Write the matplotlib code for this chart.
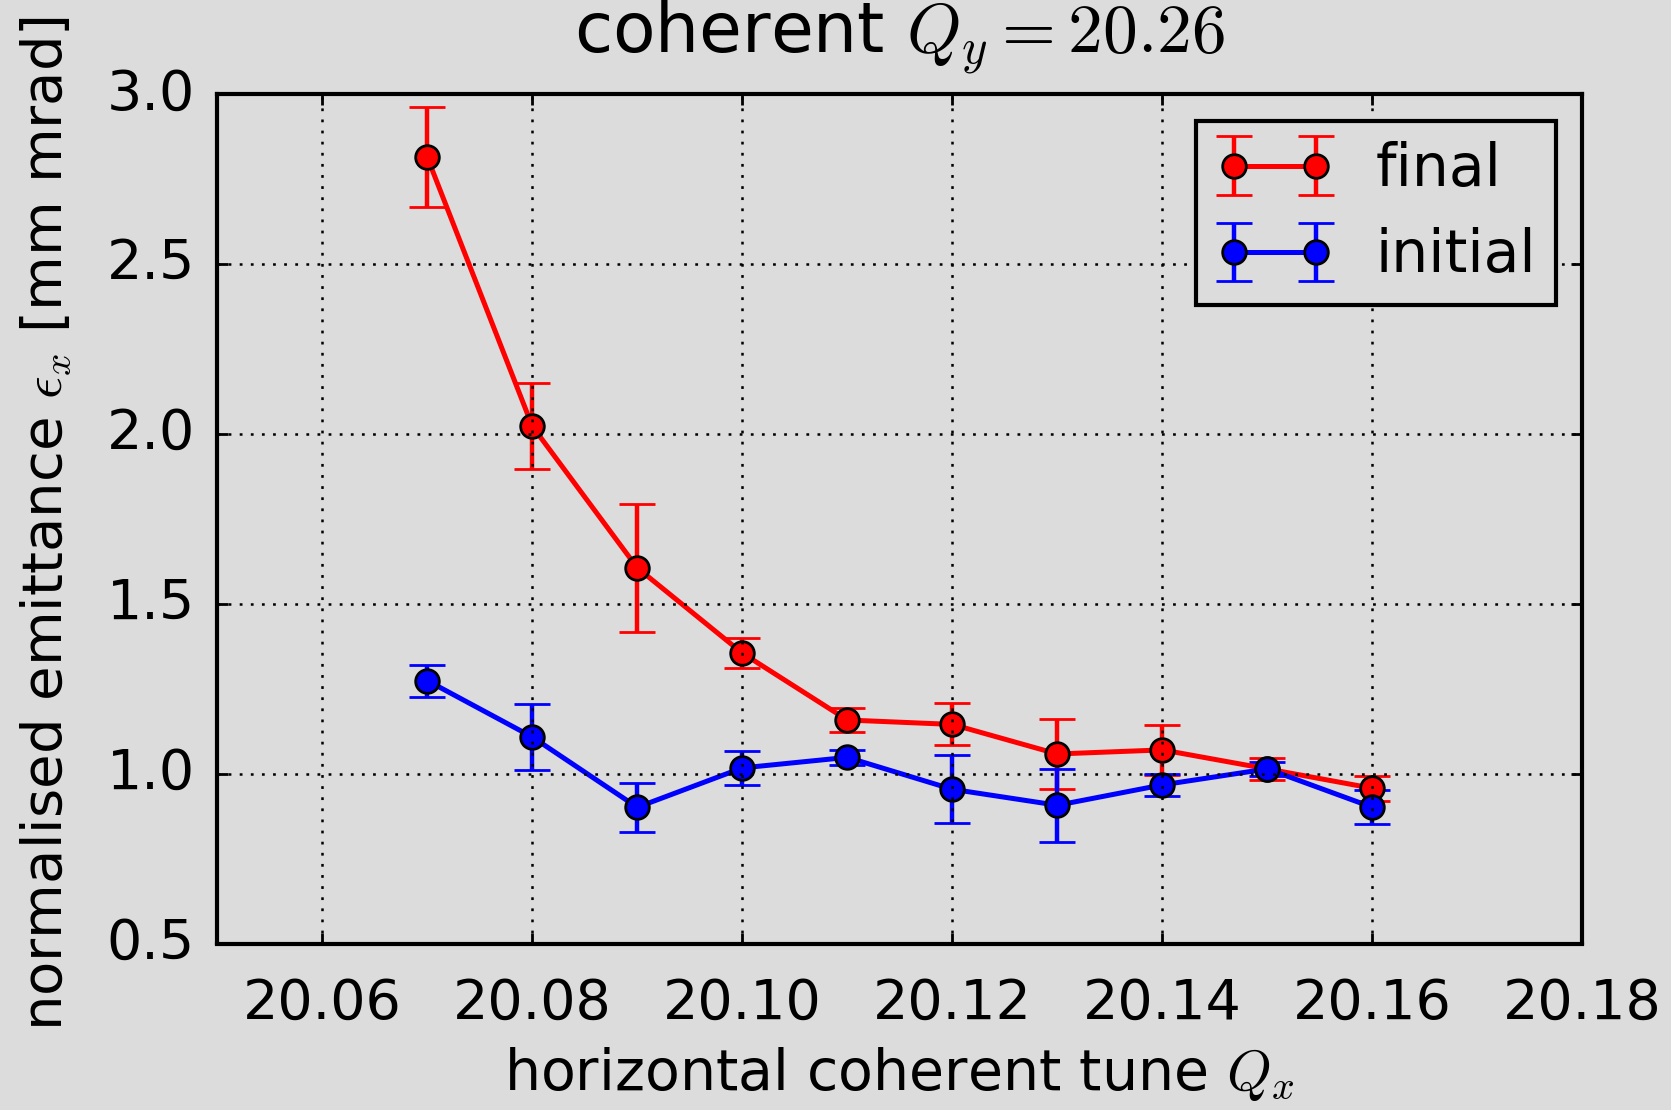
import matplotlib
matplotlib.use('Agg')
import matplotlib.pyplot as plt

plt.style.use('classic')

tune = [20.07, 20.08, 20.09, 20.10, 20.11, 20.12, 20.13, 20.14, 20.15, 20.16]
final = [2.815, 2.023, 1.606, 1.355, 1.158, 1.145, 1.058, 1.070, 1.014, 0.957]
final_err = [0.147, 0.127, 0.188, 0.044, 0.035, 0.062, 0.102, 0.073, 0.033, 0.037]
initial = [1.274, 1.108, 0.901, 1.017, 1.048, 0.954, 0.907, 0.967, 1.014, 0.901]
initial_err = [0.047, 0.098, 0.072, 0.049, 0.022, 0.100, 0.108, 0.033, 0.020, 0.050]

bg = '#dcdcdc'
fig = plt.figure(figsize=(8.355, 5.55), dpi=200, facecolor=bg)
ax = fig.add_axes([0.130, 0.150, 0.817, 0.765], facecolor=bg)

ax.errorbar(tune, final, yerr=final_err, color='red', marker='o', ms=8.5,
            mec='black', mew=1.0, lw=1.8, elinewidth=1.6, capsize=6.5, capthick=1.6,
            label='final')
ax.errorbar(tune, initial, yerr=initial_err, color='blue', marker='o', ms=8.5,
            mec='black', mew=1.0, lw=1.8, elinewidth=1.6, capsize=6.5, capthick=1.6,
            label='initial')

ax.set_xlim(20.05, 20.18)
ax.set_ylim(0.5, 3.0)
ax.set_xticks([20.06, 20.08, 20.10, 20.12, 20.14, 20.16, 20.18])
ax.set_yticks([0.5, 1.0, 1.5, 2.0, 2.5, 3.0])
ax.set_xticklabels(['20.06', '20.08', '20.10', '20.12', '20.14', '20.16', '20.18'])
ax.grid(True, color='black', linestyle=':', linewidth=0.9)
ax.tick_params(labelsize=20, direction='in', top=True, right=True, length=4, width=1)
ax.tick_params(axis='x', pad=12)
ax.tick_params(axis='y', pad=8)
for s in ax.spines.values():
    s.set_linewidth(1.5)

ax.set_xlabel(r'horizontal coherent tune $Q_x$', fontsize=20.5, labelpad=5)
ax.set_ylabel(r'normalised emittance $\epsilon_x$ [mm mrad]', fontsize=20.2)
ax.yaxis.set_label_coords(-0.105, 0.495)
ax.set_title(r'coherent $Q_y = 20.26$', fontsize=25, pad=15)

leg = ax.legend(loc='upper right', numpoints=2, fontsize=21, frameon=True, fancybox=False,
                borderaxespad=0.45, borderpad=0.35, handletextpad=0.72)
leg.get_frame().set_facecolor(bg)
leg.get_frame().set_edgecolor('black')
leg.get_frame().set_linewidth(1.5)

fig.savefig('out.png', dpi=200, facecolor=bg)
